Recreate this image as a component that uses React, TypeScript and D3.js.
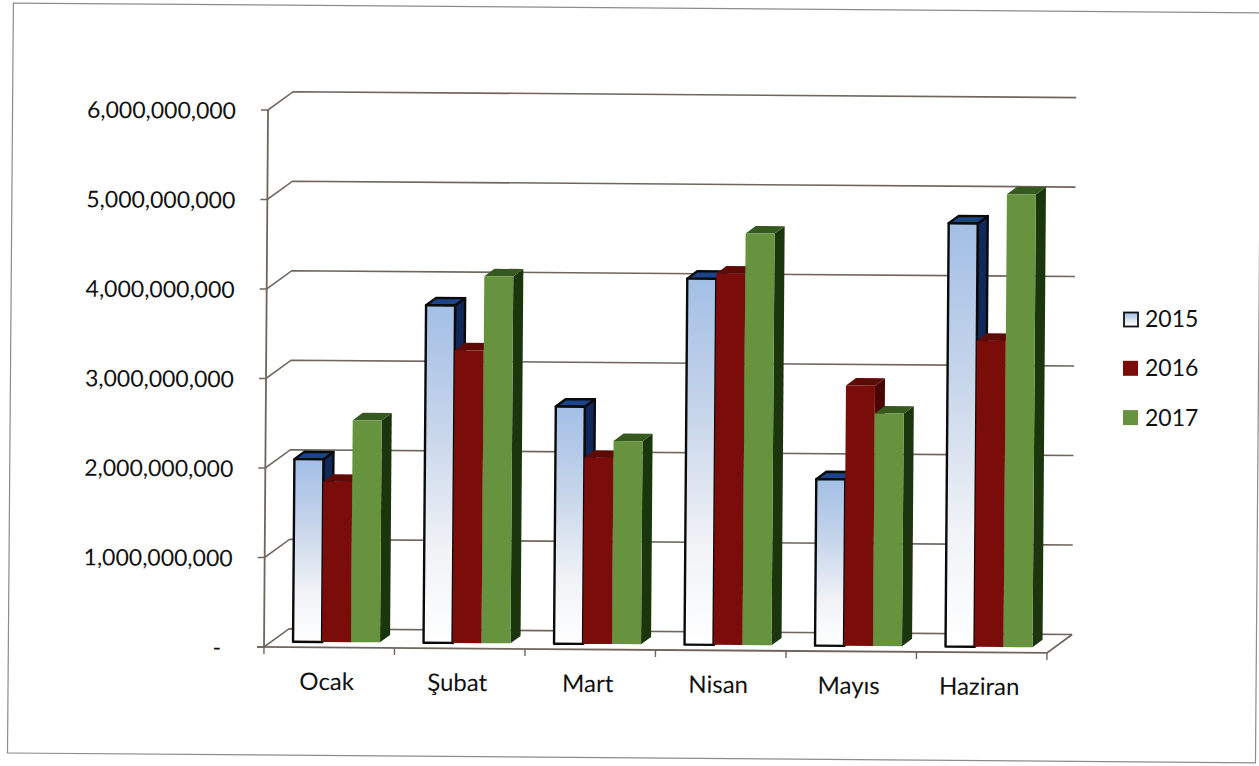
import React from "react";
import * as d3 from "d3";

const months = ["Ocak", "Şubat", "Mart", "Nisan", "Mayıs", "Haziran"];
const years = ["2015", "2016", "2017"];
const values2015 = [2.04e9, 3.77e9, 2.65e9, 4.09e9, 1.86e9, 4.73e9];
const values2016 = [1.79e9, 3.27e9, 2.08e9, 4.15e9, 2.91e9, 3.42e9];
const values2017 = [2.48e9, 4.1e9, 2.27e9, 4.6e9, 2.6e9, 5.06e9];
const yTicks = [0, 1e9, 2e9, 3e9, 4e9, 5e9, 6e9];
const seriesValues = [values2015, values2016, values2017];

const W = 1259, H = 766;
const left = 264, right = 1047, base = 647, top = 110;
const depthX = 25, depthY = -18.5;
const barDX = 10, barDY = -7.5, barLift = 5.5;
const tilt = 0.43;
const font = "Lato, 'Open Sans', sans-serif";

const x = d3.scaleBand<string>().domain(months).range([left, right]);
const y = d3.scaleLinear().domain([0, 6e9]).range([base, top]);
const inner = d3.scaleBand<string>().domain(years).range([29, 116]);
const fmt = d3.format(",");

const fronts = ["url(#blueGrad)", "#7a0c0a", "#67933f"];
const sides = ["#11285a", "#4a0604", "#1b360d"];
const tops = ["#1b4588", "#5e0a07", "#35591e"];
const grid = "#6f655d";

export default function App() {
  return (
    <svg width={W} height={H} style={{ position: "absolute", left: 0, top: 0, background: "#fff" }}>
      <defs>
        <linearGradient id="blueGrad" x1="0" y1="0" x2="0" y2="1">
          <stop offset="0" stopColor="#a3bfe6" />
          <stop offset="0.35" stopColor="#c5d4ea" />
          <stop offset="0.72" stopColor="#f0f2f6" />
          <stop offset="1" stopColor="#ffffff" />
        </linearGradient>
      </defs>
      <rect x={7.5} y={3} width={1248} height={750} fill="none" stroke="#8c8c8c" strokeWidth={1.2}
        transform={`rotate(0.45 7.5 753)`} />
      <g transform={`rotate(${tilt} ${left} ${base})`}>
        {yTicks.map((t) => (
          <g key={t}>
            <path
              d={`M${left - 7},${y(t)}L${left},${y(t)}L${left + depthX},${y(t) + depthY}L${right + depthX},${y(t) + depthY}`}
              fill="none" stroke={grid} strokeWidth={1.6}
            />
            <text x={t === 0 ? 221 : 232} y={y(t) + 9} textAnchor="end" fontFamily={font} fontSize={23} fill="#111">
              {t === 0 ? "-" : fmt(t)}
            </text>
          </g>
        ))}
        <path d={`M${left},${base}L${left},${top}`} stroke={grid} strokeWidth={1.8} fill="none" />
        <path d={`M${left - 7},${base}L${right},${base}L${right + depthX},${base + depthY}`} stroke={grid} strokeWidth={1.8} fill="none" />
        {[...months.map((m) => x(m)!), right].map((px) => (
          <path key={px} d={`M${px},${base}L${px},${base + 7}`} stroke={grid} strokeWidth={1.4} />
        ))}
        {months.map((m, i) => (
          <g key={m}>
            {years.map((yr, s) => {
              const v = seriesValues[s][i];
              const bx = x(m)! + inner(yr)!;
              const bw = inner.bandwidth();
              const by0 = base - barLift;
              const by1 = y(v) - barLift;
              const outline = s === 0 ? "#0a0a0a" : "none";
              const sw = s === 0 ? 2.4 : 0;
              return (
                <g key={yr} stroke={outline} strokeWidth={sw} strokeLinejoin="round">
                  <path d={`M${bx + bw},${by1}L${bx + bw + barDX},${by1 + barDY}L${bx + bw + barDX},${by0 + barDY}L${bx + bw},${by0}Z`} fill={sides[s]} />
                  <path d={`M${bx},${by1}L${bx + barDX},${by1 + barDY}L${bx + bw + barDX},${by1 + barDY}L${bx + bw},${by1}Z`} fill={tops[s]} />
                  <rect x={bx} y={by1} width={bw} height={by0 - by1} fill={fronts[s]} />
                </g>
              );
            })}
            <text x={x(m)! + 63} y={base + 42.5} textAnchor="middle" fontFamily={font} fontSize={24} fill="#111">
              {m}
            </text>
          </g>
        ))}
      </g>
      {years.map((yr, s) => (
        <g key={yr}>
          <rect x={s === 0 ? 1124 : 1123} y={(s === 0 ? 312.5 : 311.5) + s * 49.3} width={s === 0 ? 14 : 15} height={s === 0 ? 14 : 15}
            fill={s === 0 ? "url(#blueGrad)" : fronts[s]} stroke={s === 0 ? "#111" : "none"} strokeWidth={1.8} />
          <text x={1145} y={326.5 + s * 49.5} fontFamily={font} fontSize={23} fill="#111">{yr}</text>
        </g>
      ))}
    </svg>
  );
}
